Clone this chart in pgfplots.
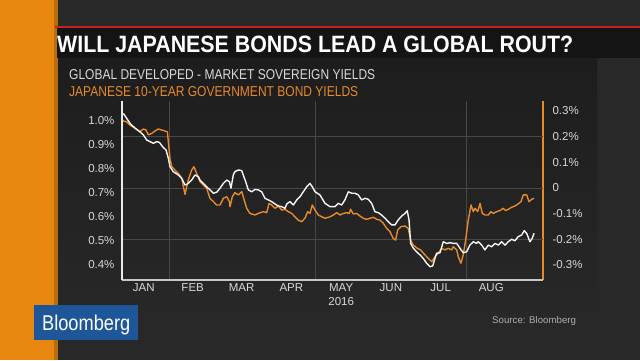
\documentclass[border=0pt]{standalone}
\usepackage{fontspec}
\setmainfont{Liberation Sans}
\usepackage{pgfplots}
\usepackage{pgfplotstable}
\pgfplotsset{compat=1.18}
\definecolor{bgc}{HTML}{282828}
\definecolor{panel}{HTML}{1D1D1D}
\definecolor{titlebar}{HTML}{141414}
\definecolor{strip}{HTML}{E8870F}
\definecolor{redline}{HTML}{C4231F}
\definecolor{jgb}{HTML}{E8892A}
\definecolor{gridc}{HTML}{484848}
\definecolor{lbl}{HTML}{D8D8D8}
\definecolor{bbblue}{HTML}{1E5799}

\pgfplotstableread{
x y
3.0 1.032
5.1 1.011
7.1 0.990
10.2 0.970
13.2 0.955
15.3 0.942
17.3 0.921
19.4 0.914
21.4 0.907
23.5 0.914
25.1 0.911
27.1 0.893
29.2 0.879
30.6 0.845
31.6 0.810
33.6 0.789
36.7 0.775
38.8 0.761
40.8 0.733
42.8 0.740
44.9 0.754
46.9 0.775
49.0 0.768
50.0 0.754
52.0 0.740
54.1 0.726
56.1 0.713
58.2 0.699
60.2 0.703
62.3 0.720
64.3 0.740
66.4 0.754
68.0 0.747
69.0 0.720
70.4 0.775
71.4 0.789
73.5 0.796
75.6 0.793
76.5 0.775
78.0 0.747
79.6 0.713
81.7 0.705
83.7 0.715
85.7 0.713
87.8 0.705
89.8 0.678
91.9 0.671
93.9 0.664
96.0 0.654
98.0 0.646
100.1 0.643
102.1 0.636
103.1 0.654
105.1 0.664
107.2 0.650
109.3 0.671
111.3 0.685
113.3 0.705
115.4 0.726
117.4 0.740
118.8 0.726
120.5 0.705
123.5 0.692
126.6 0.657
129.7 0.643
132.7 0.643
134.7 0.657
136.8 0.650
138.8 0.671
140.9 0.705
143.0 0.699
145.0 0.699
147.0 0.692
149.1 0.671
151.1 0.678
153.1 0.674
155.2 0.657
157.2 0.622
159.3 0.618
161.3 0.608
163.4 0.595
165.4 0.580
167.5 0.567
169.5 0.567
171.5 0.588
173.6 0.604
175.6 0.615
177.0 0.626
178.1 0.588
179.1 0.490
180.7 0.470
182.8 0.455
184.8 0.442
186.8 0.428
188.9 0.407
190.9 0.393
192.6 0.396
194.0 0.428
195.0 0.449
197.1 0.451
199.1 0.497
201.2 0.490
203.2 0.493
205.2 0.490
207.3 0.490
209.3 0.470
211.3 0.451
213.4 0.455
215.4 0.483
217.5 0.497
219.5 0.490
220.5 0.497
222.6 0.483
224.6 0.463
226.7 0.483
228.7 0.476
230.8 0.490
232.8 0.483
234.9 0.497
236.9 0.483
238.9 0.497
241.0 0.507
243.0 0.501
245.0 0.518
247.1 0.525
248.7 0.543
250.2 0.532
252.2 0.497
253.6 0.511
254.7 0.532
}\globaldata

\pgfplotstableread{
x y
2.5 0.265
3.0 0.261
5.1 0.258
7.1 0.245
10.2 0.233
13.2 0.219
15.3 0.230
16.9 0.226
18.3 0.207
20.4 0.213
22.4 0.222
24.4 0.230
26.5 0.226
28.6 0.222
30.0 0.219
30.6 0.180
31.6 0.116
32.7 0.083
34.7 0.070
36.7 0.057
38.8 0.038
40.8 -0.025
42.8 0.031
44.9 0.070
46.3 0.083
48.3 0.051
50.0 0.025
52.0 0.012
54.1 -0.001
56.1 -0.040
58.2 -0.053
60.2 -0.066
62.3 -0.066
64.3 -0.040
66.4 -0.034
68.0 -0.053
68.4 -0.073
69.8 -0.034
71.4 -0.018
73.5 -0.027
75.6 -0.014
77.1 -0.047
78.6 -0.079
80.6 -0.099
83.7 -0.105
85.7 -0.099
88.8 -0.092
90.9 -0.096
92.3 -0.060
93.9 -0.066
96.0 -0.079
98.0 -0.070
100.1 -0.086
102.1 -0.083
104.1 -0.092
106.2 -0.099
108.2 -0.112
110.2 -0.125
112.3 -0.131
114.3 -0.118
116.0 -0.092
117.4 -0.099
118.8 -0.066
120.5 -0.086
122.5 -0.105
124.6 -0.112
126.6 -0.118
129.7 -0.112
131.7 -0.105
133.8 -0.096
135.8 -0.105
137.8 -0.099
139.9 -0.096
141.5 -0.099
142.3 -0.083
143.9 -0.101
146.0 -0.099
148.0 -0.109
150.1 -0.118
152.1 -0.122
154.2 -0.118
156.2 -0.114
158.3 -0.122
160.3 -0.125
162.3 -0.137
164.4 -0.157
166.4 -0.170
168.4 -0.196
169.9 -0.203
171.1 -0.164
173.0 -0.151
175.6 -0.148
177.6 -0.157
179.1 -0.203
180.7 -0.222
183.2 -0.235
185.2 -0.241
187.9 -0.261
189.9 -0.274
192.0 -0.287
194.0 -0.268
196.0 -0.254
198.1 -0.235
200.1 -0.241
202.1 -0.235
204.2 -0.241
205.2 -0.229
207.3 -0.241
208.3 -0.268
209.9 -0.293
211.3 -0.261
212.8 -0.203
214.4 -0.125
216.1 -0.066
217.5 -0.092
218.5 -0.079
220.2 -0.092
221.6 -0.060
223.0 -0.099
224.6 -0.105
226.7 -0.105
228.3 -0.092
229.7 -0.099
231.8 -0.092
233.8 -0.088
235.8 -0.079
237.3 -0.088
238.9 -0.083
241.0 -0.075
243.0 -0.070
245.0 -0.062
246.7 -0.053
248.1 -0.027
250.2 -0.027
251.6 -0.053
253.3 -0.044
254.7 -0.040
}\jgbdata

\begin{document}
\begin{tikzpicture}[x=1pt,y=1pt]
\path[use as bounding box] (0,0) rectangle (640,360);
\fill[bgc] (0,0) rectangle (640,360);
\shade[top color=panel, bottom color=bgc] (57,40) rectangle (597,302);
\fill[strip] (0,0) rectangle (57,360);
\fill[strip!80!black] (54,0) rectangle (58,360);
\fill[titlebar] (57,302) rectangle (640,332);
\fill[redline] (55,332) rectangle (640,334.5);
\node[anchor=base west, inner sep=0, text=white] at (57,308)
  {\resizebox{516pt}{16.5pt}{\bfseries WILL JAPANESE BONDS LEAD A GLOBAL ROUT?}};
\node[anchor=base west, inner sep=0, text=lbl] at (69,280.5)
  {\resizebox{306pt}{10pt}{GLOBAL DEVELOPED - MARKET SOVEREIGN YIELDS}};
\node[anchor=base west, inner sep=0, text=jgb] at (69,264)
  {\resizebox{289pt}{10pt}{JAPANESE 10-YEAR GOVERNMENT BOND YIELDS}};
\fill[bbblue] (34,20) rectangle (138,55);
\node[anchor=base west, inner sep=0, text=white] at (42,29.5)
  {\resizebox{88pt}{15.5pt}{Bloomberg}};
\node[anchor=base west, inner sep=0, text=lbl!80!black] at (492,36.5)
  {\fontsize{9.7}{11}\selectfont Source: Bloomberg};

\begin{axis}[
  at={(122pt,80pt)}, anchor=south west,
  width=421pt, height=179pt, scale only axis,
  xmin=2.2, xmax=260.2, ymin=-0.3584, ymax=0.3390,
  axis y line*=right, axis x line*=bottom,
  axis line style={-},
  x axis line style={draw=none},
  y axis line style={draw=jgb, line width=1.5pt},
  xtick={31,121,213}, xticklabels={}, xmajorgrids,
  ytick={-0.3,-0.2,-0.1,0,0.1,0.2,0.3},
  yticklabels={-0.3\%,-0.2\%,-0.1\%,0,0.1\%,0.2\%,0.3\%},
  extra y ticks={-0.2,0,0.2}, extra y tick labels={},
  extra y tick style={grid=major},
  major tick length=0,
  grid style={gridc, line width=0.9pt},
  yticklabel style={font=\fontsize{11.5}{13}\selectfont, text=lbl, xshift=6pt},
]
\addplot[jgb, line width=1.4pt, line join=round] table[x=x,y=y] {\jgbdata};
\end{axis}

\begin{axis}[
  at={(122pt,80pt)}, anchor=south west,
  width=421pt, height=179pt, scale only axis,
  xmin=2.2, xmax=260.2, ymin=0.3375, ymax=1.0833,
  axis y line*=left, axis x line*=bottom,
  axis line style={-},
  x axis line style={draw=white!78!black, line width=1.2pt},
  y axis line style={draw=white!92!black, line width=1.5pt},
  xtick={15.5,45.5,75.5,106,136.5,167,197.5,228.5},
  xticklabels={JAN,FEB,MAR,APR,{MAY\\2016},JUN,JUL,AUG},
  xticklabel style={align=center, font=\fontsize{11.5}{14}\selectfont, text=lbl},
  ytick={0.4,0.5,0.6,0.7,0.8,0.9,1.0},
  yticklabels={0.4\%,0.5\%,0.6\%,0.7\%,0.8\%,0.9\%,1.0\%},
  yticklabel style={font=\fontsize{11.5}{13}\selectfont, text=lbl, xshift=-4pt},
  major tick length=0,
]
\addplot[white!96!black, line width=1.4pt, line join=round] table[x=x,y=y] {\globaldata};
\end{axis}
\end{tikzpicture}
\end{document}
